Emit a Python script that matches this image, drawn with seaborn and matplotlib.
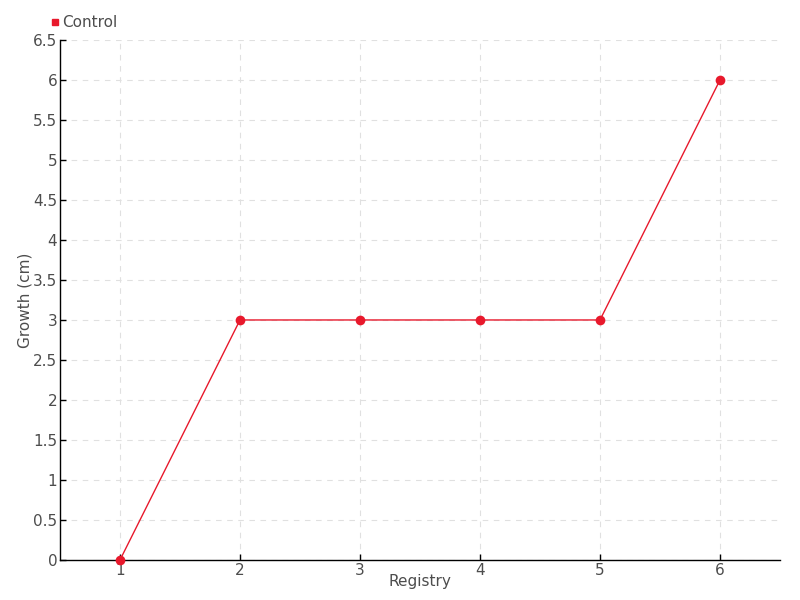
import matplotlib
matplotlib.use("Agg")
import matplotlib.pyplot as plt
from matplotlib.lines import Line2D
import pandas as pd
import seaborn as sns

# datos
registros = [1, 2, 3, 4, 5, 6]
crecimiento = [0, 3, 3, 3, 3, 6]
serie = "Control"
color_serie = "#e8192c"
yticks = [0, 0.5, 1, 1.5, 2, 2.5, 3, 3.5, 4, 4.5, 5, 5.5, 6, 6.5]

df = pd.DataFrame({"Registry": registros, "Growth (cm)": crecimiento})

sns.set_style("white")
plt.rcParams["font.family"] = ["Liberation Sans Narrow", "DejaVu Sans"]
texto = "#4d4d4d"

fig = plt.figure(figsize=(8, 6), dpi=100)
ax = fig.add_axes([0.075, 0.0667, 0.9, 0.8667])

sns.lineplot(data=df, x="Registry", y="Growth (cm)", ax=ax, color=color_serie,
             linewidth=1, marker="o", markersize=7, markeredgewidth=0,
             clip_on=False, zorder=3)

ax.set_xlim(0.5, 6.5)
ax.set_ylim(0, 6.5)
ax.set_xticks(registros)
ax.set_xticklabels([str(r) for r in registros])
ax.set_yticks(yticks)
ax.set_yticklabels([f"{v:g}" for v in yticks])

ax.grid(True, color="#e0e0e0", linestyle=(0, (5, 5)), linewidth=0.8)
ax.set_axisbelow(True)
for s in ["top", "right"]:
    ax.spines[s].set_visible(False)
for s in ["left", "bottom"]:
    ax.spines[s].set_color("black")
    ax.spines[s].set_linewidth(1)

ax.tick_params(bottom=True, left=True, direction="in", length=4, width=1,
               colors="black", labelcolor=texto, labelsize=11, pad=2)
ax.set_xlabel("Registry", color=texto, fontsize=11, labelpad=-3)
ax.set_ylabel("Growth (cm)", color=texto, fontsize=11, labelpad=0)

handle = Line2D([], [], linestyle="none", marker="s", markersize=5,
                color=color_serie)
fig.legend([handle], [serie], loc="upper left", bbox_to_anchor=(0.055, 0.985),
           frameon=False, fontsize=11, handlelength=0.6, handletextpad=0.2,
           labelcolor=texto, borderaxespad=0)

fig.savefig("out.png", dpi=100)
